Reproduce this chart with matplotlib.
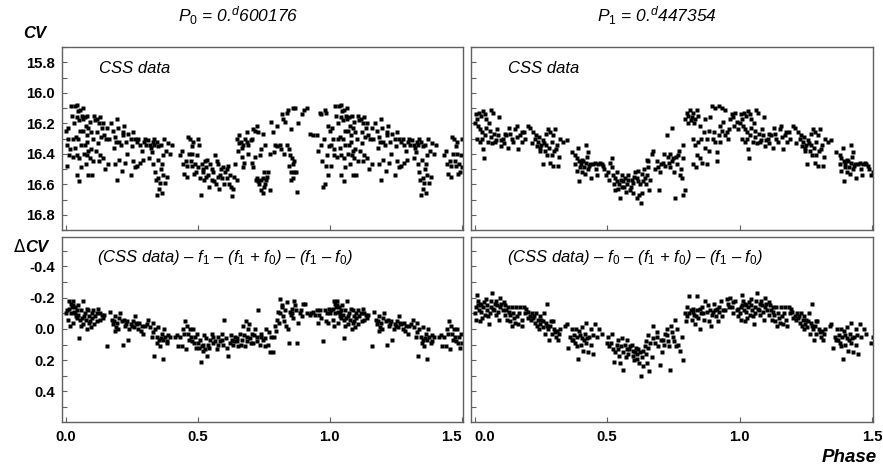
import matplotlib.pyplot as plt
import numpy as np

plt.rcParams['font.family'] = ['Liberation Sans', 'DejaVu Sans']
plt.rcParams['mathtext.fontset'] = 'custom'
plt.rcParams['mathtext.it'] = 'Liberation Sans:italic'
plt.rcParams['mathtext.rm'] = 'Liberation Sans'
plt.rcParams['axes.unicode_minus'] = False

# CSS light curve folded with P0 (phase, CV)
css_p0 = [
    (0.008, 16.23), (0.010, 16.30), (0.004, 16.34), (0.014, 16.41), (0.004, 16.48), (0.023, 16.15), (0.019, 16.09),
    (0.029, 16.30), (0.026, 16.42), (0.035, 16.09), (0.044, 16.08), (0.054, 16.11), (0.042, 16.16), (0.049, 16.18),
    (0.061, 16.15), (0.039, 16.29), (0.048, 16.30), (0.042, 16.41), (0.052, 16.43), (0.044, 16.54), (0.052, 16.58),
    (0.059, 16.49), (0.057, 16.34), (0.064, 16.17), (0.073, 16.16), (0.082, 16.15), (0.077, 16.22), (0.086, 16.23),
    (0.092, 16.19), (0.067, 16.25), (0.079, 16.28), (0.073, 16.34), (0.086, 16.38), (0.082, 16.41), (0.092, 16.43),
    (0.077, 16.47), (0.086, 16.54), (0.098, 16.54), (0.095, 16.37), (0.102, 16.30), (0.111, 16.18), (0.117, 16.17),
    (0.130, 16.16), (0.127, 16.20), (0.142, 16.20), (0.120, 16.26), (0.136, 16.23), (0.158, 16.23), (0.161, 16.47),
    (0.145, 16.28), (0.130, 16.41), (0.125, 16.45), (0.140, 16.43), (0.153, 16.30), (0.165, 16.30), (0.178, 16.25),
    (0.187, 16.29), (0.195, 16.17), (0.199, 16.23), (0.190, 16.32), (0.203, 16.32), (0.208, 16.34), (0.218, 16.26),
    (0.221, 16.22), (0.187, 16.47), (0.212, 16.51), (0.195, 16.57), (0.216, 16.28), (0.228, 16.32), (0.224, 16.46),
    (0.237, 16.27), (0.246, 16.30), (0.256, 16.26), (0.262, 16.30), (0.269, 16.32), (0.253, 16.45), (0.262, 16.49),
    (0.246, 16.54), (0.275, 16.30), (0.281, 16.34), (0.288, 16.38), (0.296, 16.32), (0.281, 16.46), (0.304, 16.34),
    (0.310, 16.31), (0.319, 16.34), (0.329, 16.32), (0.334, 16.34), (0.325, 16.39), (0.317, 16.43), (0.332, 16.47),
    (0.338, 16.52), (0.344, 16.32), (0.351, 16.35), (0.342, 16.57), (0.351, 16.56), (0.357, 16.59), (0.344, 16.67),
    (0.363, 16.66), (0.354, 16.63), (0.369, 16.41), (0.372, 16.30), (0.364, 16.47), (0.376, 16.59), (0.382, 16.55),
    (0.367, 16.54), (0.361, 16.34), (0.388, 16.33), (0.401, 16.34), (0.433, 16.41), (0.443, 16.47), (0.449, 16.53),
    (0.460, 16.48), (0.464, 16.29), (0.470, 16.30), (0.477, 16.35), (0.483, 16.32), (0.468, 16.40), (0.473, 16.45),
    (0.458, 16.55), (0.477, 16.48), (0.489, 16.47), (0.486, 16.53), (0.496, 16.41), (0.502, 16.30), (0.506, 16.34),
    (0.502, 16.49), (0.508, 16.56), (0.515, 16.47), (0.521, 16.52), (0.527, 16.45), (0.533, 16.49), (0.540, 16.54),
    (0.546, 16.47), (0.552, 16.57), (0.559, 16.52), (0.511, 16.67), (0.565, 16.41), (0.571, 16.45), (0.578, 16.47),
    (0.584, 16.54), (0.581, 16.63), (0.569, 16.60), (0.590, 16.56), (0.523, 16.57), (0.536, 16.44), (0.596, 16.49),
    (0.603, 16.52), (0.609, 16.56), (0.615, 16.48), (0.622, 16.54), (0.628, 16.68), (0.619, 16.60), (0.634, 16.63),
    (0.641, 16.47), (0.647, 16.57), (0.649, 16.30), (0.657, 16.28), (0.662, 16.32), (0.670, 16.34), (0.653, 16.38),
    (0.666, 16.42), (0.675, 16.46), (0.678, 16.30), (0.672, 16.49), (0.685, 16.32), (0.685, 16.26), (0.691, 16.34),
    (0.700, 16.31), (0.710, 16.24), (0.716, 16.25), (0.723, 16.22), (0.729, 16.26), (0.704, 16.46), (0.710, 16.49),
    (0.720, 16.57), (0.725, 16.56), (0.733, 16.60), (0.738, 16.64), (0.745, 16.66), (0.754, 16.60), (0.748, 16.56),
    (0.741, 16.57), (0.758, 16.57), (0.750, 16.52), (0.735, 16.41), (0.741, 16.37), (0.748, 16.27), (0.754, 16.34),
    (0.767, 16.52), (0.773, 16.64), (0.779, 16.19), (0.783, 16.26), (0.788, 16.39), (0.792, 16.34), (0.798, 16.35),
    (0.811, 16.34), (0.817, 16.14), (0.823, 16.17), (0.830, 16.19), (0.836, 16.13), (0.842, 16.11), (0.839, 16.34),
    (0.846, 16.37), (0.849, 16.41), (0.851, 16.24), (0.855, 16.43), (0.859, 16.47), (0.861, 16.10), (0.868, 16.10),
    (0.859, 16.56), (0.851, 16.57), (0.864, 16.52), (0.874, 16.65), (0.871, 16.52), (0.893, 16.14), (0.901, 16.11),
    (0.912, 16.10), (0.924, 16.27), (0.937, 16.28), (0.950, 16.28), (0.962, 16.13), (0.968, 16.14), (0.981, 16.11),
    (0.987, 16.13), (0.968, 16.34), (0.977, 16.30), (0.975, 16.62), (0.981, 16.60), (0.994, 16.54), (0.990, 16.41),
    (0.998, 16.35), (0.994, 16.22),
    (0.000, 16.25), (0.015, 16.37), (0.030, 16.20), (0.037, 16.36), (0.047, 16.12), (0.056, 16.25), (0.066, 16.10),
    (0.070, 16.40), (0.080, 16.32), (0.096, 16.26), (0.105, 16.45), (0.108, 16.15), (0.115, 16.38), (0.122, 16.33),
    (0.133, 16.29), (0.148, 16.50), (0.170, 16.20), (0.183, 16.36), (0.200, 16.44), (0.232, 16.40), (0.250, 16.35),
    (0.270, 16.48), (0.292, 16.44), (0.300, 16.30), (0.322, 16.36), (0.336, 16.30), (0.348, 16.44), (0.360, 16.50),
    (0.378, 16.38), (0.395, 16.40), (0.440, 16.38), (0.455, 16.45), (0.480, 16.40), (0.493, 16.52), (0.518, 16.50),
    (0.530, 16.55), (0.543, 16.62), (0.555, 16.50), (0.562, 16.58), (0.575, 16.55), (0.588, 16.50), (0.600, 16.60),
    (0.612, 16.50), (0.625, 16.62), (0.638, 16.55), (0.655, 16.33), (0.668, 16.36), (0.690, 16.40), (0.705, 16.30),
    (0.715, 16.42), (0.728, 16.58), (0.752, 16.62), (0.762, 16.55), (0.775, 16.40), (0.800, 16.22), (0.815, 16.37),
    (0.826, 16.40), (0.844, 16.48), (0.853, 16.52), (0.866, 16.45), (0.880, 16.20), (0.955, 16.38), (0.972, 16.45),
    (0.985, 16.48),
]

# CSS light curve folded with P1 (phase, CV)
css_p1 = [
    (0.006, 16.14), (0.016, 16.13), (0.025, 16.15), (0.032, 16.12), (0.038, 16.14), (0.044, 16.17), (0.063, 16.11),
    (0.069, 16.13), (0.013, 16.22), (0.021, 16.24), (0.029, 16.26), (0.009, 16.30), (0.019, 16.32), (0.032, 16.37),
    (0.034, 16.43), (0.044, 16.23), (0.054, 16.20), (0.057, 16.25), (0.067, 16.33), (0.076, 16.32), (0.082, 16.31),
    (0.092, 16.16), (0.088, 16.28), (0.101, 16.31), (0.107, 16.30), (0.113, 16.27), (0.120, 16.28), (0.126, 16.36),
    (0.130, 16.23), (0.139, 16.30), (0.145, 16.32), (0.151, 16.24), (0.158, 16.22), (0.164, 16.37), (0.170, 16.28),
    (0.177, 16.26), (0.180, 16.32), (0.189, 16.30), (0.202, 16.22), (0.208, 16.23), (0.221, 16.26), (0.227, 16.30),
    (0.233, 16.28), (0.240, 16.32), (0.246, 16.36), (0.252, 16.34), (0.259, 16.31), (0.265, 16.38), (0.271, 16.34),
    (0.277, 16.24), (0.284, 16.26), (0.290, 16.32), (0.296, 16.28), (0.303, 16.24), (0.256, 16.47), (0.274, 16.41),
    (0.284, 16.46), (0.290, 16.41), (0.296, 16.48), (0.306, 16.37), (0.311, 16.34), (0.315, 16.48), (0.322, 16.30),
    (0.334, 16.32), (0.347, 16.31), (0.243, 16.29), (0.248, 16.38), (0.269, 16.27), (0.366, 16.39), (0.378, 16.41),
    (0.385, 16.43), (0.391, 16.36), (0.395, 16.45), (0.400, 16.47), (0.407, 16.44), (0.412, 16.49), (0.420, 16.46),
    (0.425, 16.42), (0.429, 16.39), (0.433, 16.48), (0.416, 16.53), (0.404, 16.52), (0.395, 16.58), (0.435, 16.47),
    (0.441, 16.56), (0.448, 16.47), (0.454, 16.46), (0.463, 16.54), (0.467, 16.47), (0.422, 16.34), (0.385, 16.51),
    (0.473, 16.46), (0.479, 16.47), (0.486, 16.48), (0.496, 16.54), (0.504, 16.52), (0.511, 16.46), (0.517, 16.43),
    (0.523, 16.54), (0.530, 16.56), (0.536, 16.58), (0.542, 16.63), (0.530, 16.64), (0.549, 16.69), (0.551, 16.57),
    (0.555, 16.54), (0.538, 16.52), (0.517, 16.49), (0.561, 16.58), (0.567, 16.56), (0.574, 16.60), (0.580, 16.54),
    (0.586, 16.64), (0.593, 16.57), (0.599, 16.59), (0.605, 16.52), (0.612, 16.56), (0.618, 16.51), (0.624, 16.60),
    (0.631, 16.66), (0.637, 16.58), (0.643, 16.56), (0.649, 16.54), (0.656, 16.49), (0.627, 16.72), (0.622, 16.67),
    (0.596, 16.66), (0.571, 16.65), (0.612, 16.69), (0.647, 16.60), (0.662, 16.57), (0.649, 16.44), (0.668, 16.40),
    (0.675, 16.38), (0.687, 16.45), (0.694, 16.49), (0.697, 16.64), (0.660, 16.64), (0.702, 16.47), (0.712, 16.46),
    (0.719, 16.48), (0.725, 16.28), (0.731, 16.42), (0.738, 16.49), (0.744, 16.45), (0.750, 16.43), (0.753, 16.52),
    (0.757, 16.69), (0.763, 16.47), (0.769, 16.41), (0.773, 16.38), (0.776, 16.54), (0.744, 16.23), (0.782, 16.56),
    (0.788, 16.67), (0.794, 16.64), (0.778, 16.50), (0.738, 16.40), (0.786, 16.43), (0.788, 16.34), (0.794, 16.17),
    (0.801, 16.13), (0.807, 16.15), (0.813, 16.11), (0.820, 16.16), (0.826, 16.13), (0.832, 16.17), (0.839, 16.11),
    (0.845, 16.15), (0.823, 16.30), (0.832, 16.34), (0.839, 16.41), (0.845, 16.32), (0.826, 16.47), (0.836, 16.49),
    (0.851, 16.43), (0.858, 16.46), (0.864, 16.26), (0.870, 16.17), (0.851, 16.22), (0.876, 16.30), (0.883, 16.38),
    (0.879, 16.47), (0.889, 16.16), (0.895, 16.09), (0.908, 16.10), (0.921, 16.09), (0.933, 16.10), (0.946, 16.11),
    (0.902, 16.26), (0.908, 16.32), (0.914, 16.45), (0.921, 16.28), (0.914, 16.39), (0.927, 16.22), (0.933, 16.25),
    (0.939, 16.19), (0.952, 16.26), (0.965, 16.17), (0.958, 16.30), (0.971, 16.14), (0.977, 16.16), (0.984, 16.13),
    (0.990, 16.19), (0.996, 16.24),
    (0.000, 16.20), (0.010, 16.17), (0.027, 16.30), (0.040, 16.28), (0.050, 16.32), (0.060, 16.29), (0.072, 16.27),
    (0.085, 16.24), (0.098, 16.35), (0.110, 16.33), (0.135, 16.27), (0.160, 16.29), (0.185, 16.26), (0.215, 16.33),
    (0.237, 16.35), (0.262, 16.33), (0.280, 16.36), (0.300, 16.38), (0.318, 16.42), (0.380, 16.47), (0.398, 16.49),
    (0.410, 16.45), (0.428, 16.50), (0.458, 16.50), (0.490, 16.50), (0.508, 16.57), (0.525, 16.60), (0.545, 16.60),
    (0.556, 16.62), (0.565, 16.62), (0.577, 16.57), (0.590, 16.62), (0.602, 16.55), (0.615, 16.58), (0.632, 16.53),
    (0.640, 16.50), (0.655, 16.45), (0.680, 16.50), (0.700, 16.52), (0.715, 16.40), (0.735, 16.46), (0.760, 16.42),
    (0.805, 16.20), (0.816, 16.18), (0.829, 16.20), (0.855, 16.30), (0.868, 16.36), (0.885, 16.25), (0.898, 16.30),
    (0.925, 16.32), (0.945, 16.28), (0.962, 16.24), (0.980, 16.22),
]

# residuals after removing f1 terms, folded with P0 (phase, dCV)
res_p0 = [
    (0.004, -0.12), (0.010, -0.06), (0.014, -0.18), (0.019, -0.16), (0.023, -0.14), (0.026, -0.18), (0.032, -0.11),
    (0.035, -0.14), (0.039, -0.08), (0.044, -0.12), (0.048, -0.09), (0.052, 0.06), (0.054, -0.06), (0.061, -0.07),
    (0.064, -0.18), (0.067, -0.03), (0.073, -0.10), (0.077, -0.06), (0.082, 0.00), (0.086, -0.12), (0.090, -0.08),
    (0.092, -0.05), (0.095, -0.01), (0.098, -0.10), (0.016, -0.02), (0.029, -0.04), (0.042, -0.07), (0.057, -0.02),
    (0.105, -0.12), (0.111, -0.08), (0.117, -0.10), (0.124, -0.13), (0.130, -0.06), (0.136, -0.09), (0.142, -0.07),
    (0.158, 0.11), (0.168, -0.11), (0.174, -0.06), (0.180, -0.03), (0.187, -0.08), (0.190, -0.01), (0.195, -0.04),
    (0.199, 0.00), (0.187, 0.01), (0.206, -0.10), (0.212, -0.05), (0.216, 0.10), (0.221, -0.06), (0.224, -0.02),
    (0.231, -0.05), (0.237, 0.07), (0.241, 0.00), (0.246, -0.03), (0.253, -0.05), (0.259, -0.01), (0.262, -0.08),
    (0.269, -0.03), (0.275, 0.00), (0.279, -0.04), (0.288, -0.02), (0.294, 0.03), (0.306, -0.03), (0.313, -0.06),
    (0.319, -0.01), (0.325, 0.05), (0.329, -0.04), (0.334, 0.17), (0.338, 0.00), (0.344, 0.05), (0.347, 0.09),
    (0.351, -0.01), (0.354, 0.07), (0.357, 0.11), (0.363, 0.03), (0.367, 0.19), (0.369, 0.07), (0.372, 0.00),
    (0.376, 0.05), (0.382, 0.09), (0.388, 0.04), (0.395, 0.05), (0.414, 0.05), (0.426, 0.11), (0.433, 0.05),
    (0.439, 0.11), (0.445, 0.00), (0.451, -0.05), (0.455, 0.13), (0.460, -0.02), (0.464, 0.03), (0.470, 0.00),
    (0.473, 0.05), (0.477, 0.08), (0.483, 0.00), (0.489, 0.05), (0.493, 0.12), (0.498, 0.03), (0.502, 0.09),
    (0.508, 0.07), (0.512, 0.21), (0.515, 0.11), (0.521, 0.10), (0.527, 0.13), (0.531, 0.06), (0.536, 0.17),
    (0.540, 0.10), (0.546, 0.07), (0.552, 0.03), (0.559, 0.05), (0.565, 0.08), (0.571, 0.13), (0.578, 0.05),
    (0.584, 0.08), (0.590, 0.03), (0.596, 0.10), (0.599, -0.06), (0.607, 0.06), (0.615, 0.17), (0.622, 0.09),
    (0.628, 0.07), (0.634, 0.10), (0.641, 0.05), (0.647, 0.08), (0.653, 0.11), (0.660, 0.03), (0.666, 0.07),
    (0.672, -0.02), (0.678, 0.11), (0.685, 0.05), (0.691, 0.00), (0.697, 0.06), (0.682, -0.05), (0.695, -0.03),
    (0.704, 0.03), (0.710, 0.09), (0.716, 0.00), (0.723, 0.05), (0.729, -0.12), (0.735, 0.10), (0.741, 0.03),
    (0.748, 0.07), (0.754, 0.06), (0.760, 0.00), (0.767, 0.10), (0.773, 0.15), (0.779, 0.05), (0.786, 0.15),
    (0.792, -0.02), (0.796, 0.01), (0.801, -0.06), (0.805, -0.11), (0.811, -0.10), (0.813, -0.19), (0.817, -0.14),
    (0.823, -0.08), (0.830, -0.12), (0.834, -0.02), (0.839, -0.17), (0.842, 0.00), (0.846, 0.09), (0.851, -0.09),
    (0.855, -0.13), (0.861, -0.07), (0.864, -0.18), (0.868, -0.15), (0.874, 0.09), (0.880, -0.04), (0.886, -0.10),
    (0.893, -0.08), (0.897, -0.16), (0.905, -0.16), (0.924, -0.09), (0.937, -0.11), (0.943, -0.09), (0.950, -0.12),
    (0.956, -0.04), (0.962, -0.12), (0.968, -0.07), (0.975, 0.08), (0.981, -0.12), (0.987, -0.05), (0.994, -0.04),
    (0.997, -0.13),
    (0.000, -0.10), (0.012, -0.13), (0.020, -0.10), (0.028, -0.15), (0.037, -0.10), (0.046, -0.15), (0.058, -0.12),
    (0.070, -0.08), (0.080, -0.13), (0.088, -0.04), (0.100, -0.07), (0.108, -0.03), (0.120, -0.05), (0.128, -0.10),
    (0.146, -0.09), (0.183, -0.05), (0.203, -0.07), (0.228, -0.03), (0.250, -0.02), (0.265, -0.04), (0.285, 0.01),
    (0.300, -0.02), (0.330, 0.02), (0.360, 0.06), (0.385, 0.08), (0.420, 0.04), (0.448, 0.03), (0.468, 0.07),
    (0.486, 0.09), (0.505, 0.12), (0.518, 0.14), (0.525, 0.04), (0.543, 0.12), (0.556, 0.09), (0.575, 0.10),
    (0.593, 0.07), (0.612, 0.12), (0.625, 0.04), (0.638, 0.08), (0.650, 0.06), (0.663, 0.10), (0.675, 0.04),
    (0.688, 0.08), (0.700, 0.09), (0.713, 0.04), (0.726, 0.08), (0.738, 0.05), (0.755, 0.11), (0.770, 0.02),
    (0.790, 0.05), (0.808, -0.04), (0.820, -0.15), (0.827, -0.05), (0.848, -0.11), (0.858, -0.10), (0.870, -0.12),
    (0.890, -0.12), (0.915, -0.10), (0.930, -0.10), (0.960, -0.09), (0.990, -0.10),
]

# residuals after removing f0 terms, folded with P1 (phase, dCV)
res_p1 = [
    (0.004, -0.14), (0.009, -0.22), (0.013, -0.18), (0.016, -0.12), (0.019, -0.16), (0.025, -0.11), (0.029, -0.07),
    (0.032, -0.14), (0.038, -0.09), (0.042, -0.19), (0.047, -0.12), (0.054, -0.03), (0.057, -0.10), (0.063, -0.18),
    (0.067, -0.23), (0.069, -0.13), (0.076, -0.16), (0.082, -0.18), (0.088, -0.11), (0.095, -0.20), (0.097, -0.14),
    (0.092, -0.06), (0.079, -0.09), (0.006, -0.06), (0.021, -0.05), (0.105, -0.12), (0.110, -0.17), (0.113, -0.09),
    (0.117, -0.12), (0.122, -0.06), (0.126, -0.14), (0.132, -0.09), (0.135, -0.05), (0.139, -0.14), (0.142, -0.02),
    (0.148, -0.07), (0.155, -0.14), (0.160, -0.08), (0.164, -0.03), (0.170, -0.14), (0.177, -0.06), (0.180, -0.02),
    (0.185, -0.14), (0.195, -0.13), (0.202, -0.07), (0.208, -0.08), (0.214, -0.06), (0.221, -0.07), (0.227, -0.04),
    (0.231, -0.10), (0.236, -0.02), (0.240, -0.06), (0.243, 0.00), (0.248, -0.03), (0.252, -0.06), (0.256, -0.01),
    (0.261, -0.10), (0.265, 0.03), (0.269, -0.04), (0.274, -0.16), (0.277, 0.00), (0.281, 0.07), (0.286, -0.02),
    (0.290, 0.03), (0.294, -0.05), (0.299, 0.00), (0.306, 0.05), (0.311, 0.01), (0.315, 0.07), (0.322, 0.00),
    (0.340, -0.02), (0.347, -0.03), (0.353, 0.12), (0.359, 0.05), (0.366, 0.07), (0.369, 0.00), (0.375, 0.04),
    (0.378, 0.09), (0.382, 0.00), (0.387, 0.05), (0.391, 0.19), (0.395, 0.01), (0.400, 0.10), (0.404, 0.06),
    (0.407, -0.01), (0.410, 0.14), (0.416, 0.03), (0.420, 0.09), (0.422, -0.04), (0.429, 0.15), (0.433, 0.05),
    (0.438, 0.00), (0.441, 0.10), (0.448, 0.16), (0.454, -0.03), (0.460, 0.05), (0.470, 0.00), (0.479, 0.03),
    (0.498, 0.09), (0.508, 0.11), (0.517, 0.03), (0.521, 0.13), (0.526, 0.21), (0.530, 0.15), (0.536, 0.10),
    (0.542, 0.07), (0.546, 0.17), (0.551, 0.11), (0.555, 0.06), (0.559, 0.26), (0.561, 0.15), (0.549, 0.22),
    (0.567, 0.10), (0.574, 0.13), (0.576, 0.07), (0.580, 0.16), (0.586, 0.11), (0.593, 0.10), (0.596, 0.14),
    (0.602, 0.20), (0.605, 0.15), (0.609, 0.12), (0.614, 0.19), (0.618, 0.13), (0.622, 0.22), (0.627, 0.30),
    (0.631, 0.18), (0.634, 0.24), (0.637, 0.14), (0.643, 0.11), (0.647, 0.16), (0.652, 0.22), (0.656, 0.12),
    (0.660, 0.27), (0.662, 0.09), (0.668, 0.18), (0.675, -0.02), (0.681, 0.09), (0.687, 0.05), (0.694, 0.11),
    (0.700, 0.23), (0.706, 0.15), (0.712, 0.07), (0.719, 0.03), (0.725, 0.00), (0.731, 0.08), (0.735, 0.11),
    (0.738, 0.26), (0.740, -0.02), (0.748, 0.05), (0.753, 0.08), (0.757, -0.06), (0.760, 0.11), (0.763, 0.00),
    (0.769, 0.10), (0.776, 0.14), (0.782, 0.05), (0.788, 0.20), (0.794, -0.10), (0.801, -0.14), (0.803, -0.08),
    (0.811, -0.21), (0.816, -0.12), (0.820, -0.06), (0.823, -0.13), (0.828, -0.09), (0.832, -0.03), (0.839, -0.21),
    (0.841, -0.12), (0.845, -0.07), (0.849, 0.00), (0.854, -0.10), (0.858, -0.14), (0.864, -0.06), (0.870, -0.18),
    (0.876, -0.11), (0.883, -0.05), (0.887, -0.12), (0.892, -0.02), (0.895, -0.09), (0.902, -0.16), (0.908, -0.12),
    (0.912, -0.08), (0.917, -0.05), (0.921, -0.11), (0.924, -0.14), (0.929, -0.18), (0.933, -0.08), (0.939, -0.12),
    (0.952, -0.19), (0.958, -0.16), (0.965, -0.20), (0.971, -0.14), (0.977, -0.10), (0.984, -0.18), (0.990, -0.12),
    (0.996, -0.08),
    (0.000, -0.10), (0.011, -0.15), (0.023, -0.15), (0.035, -0.17), (0.045, -0.15), (0.051, -0.08), (0.060, -0.14),
    (0.073, -0.12), (0.085, -0.15), (0.100, -0.16), (0.115, -0.15), (0.128, -0.11), (0.145, -0.10), (0.152, -0.04),
    (0.168, -0.10), (0.190, -0.10), (0.200, -0.11), (0.218, -0.10), (0.225, -0.08), (0.245, -0.08), (0.258, -0.05),
    (0.272, -0.02), (0.288, -0.05), (0.302, 0.02), (0.318, 0.03), (0.372, 0.07), (0.385, 0.11), (0.398, 0.04),
    (0.413, 0.07), (0.425, 0.06), (0.445, 0.04), (0.503, 0.05), (0.515, 0.09), (0.540, 0.13), (0.570, 0.18),
    (0.583, 0.13), (0.598, 0.17), (0.612, 0.16), (0.625, 0.15), (0.645, 0.08), (0.655, 0.04), (0.672, 0.06),
    (0.690, 0.02), (0.702, 0.07), (0.716, 0.10), (0.728, 0.04), (0.745, 0.02), (0.796, -0.05), (0.808, -0.10),
    (0.826, -0.11), (0.836, -0.08), (0.852, -0.13), (0.862, -0.10), (0.880, -0.15), (0.900, -0.11), (0.915, -0.13),
    (0.945, -0.12), (0.960, -0.14), (0.975, -0.17), (0.993, -0.13),
]

phase_ticks = [0.0, 0.5, 1.0, 1.5]
cv_ticks = [15.8, 16.0, 16.2, 16.4, 16.6, 16.8]
dcv_ticks = [-0.4, -0.2, 0.0, 0.2, 0.4]

period_labels = [r'$\mathit{P}_\mathit{0}$ = 0.$^\mathit{d}$600176', r'$\mathit{P}_\mathit{1}$ = 0.$^\mathit{d}$447354']
residual_labels = [
    r'(CSS data) – $\mathit{f}_\mathit{1}$ – ($\mathit{f}_\mathit{1}$ + $\mathit{f}_\mathit{0}$) – ($\mathit{f}_\mathit{1}$ – $\mathit{f}_\mathit{0}$)',
    r'(CSS data) – $\mathit{f}_\mathit{0}$ – ($\mathit{f}_\mathit{1}$ + $\mathit{f}_\mathit{0}$) – ($\mathit{f}_\mathit{1}$ – $\mathit{f}_\mathit{0}$)',
]


def fold(pts):
    ph, val = np.array(pts).T
    # phase diagram shows 1.5 cycles: repeat the first half after phase 1
    first = ph < 0.505
    return np.concatenate([ph, ph[first] + 1.0]), np.concatenate([val, val[first]])


W, H = 883, 470
fig = plt.figure(figsize=(W / 100, H / 100), dpi=100)

frame = '#606060'
ax_tl = fig.add_axes([62 / W, 1 - 230 / H, 401 / W, 183 / H])
ax_tr = fig.add_axes([471 / W, 1 - 230 / H, 402 / W, 183 / H])
ax_bl = fig.add_axes([62 / W, 1 - 421.5 / H, 401 / W, 184.5 / H])
ax_br = fig.add_axes([471 / W, 1 - 421.5 / H, 402 / W, 184.5 / H])

panels = [(ax_tl, css_p0, cv_ticks), (ax_tr, css_p1, cv_ticks),
          (ax_bl, res_p0, dcv_ticks), (ax_br, res_p1, dcv_ticks)]
for ax, pts, yt in panels:
    ph, val = fold(pts)
    ax.plot(ph, val, 's', ms=2.5, color='black', mec='none')
    ax.set_xlim(-0.014, 1.504)
    ax.set_xticks(phase_ticks, [f'{t:.1f}' for t in phase_ticks], fontweight='bold')
    ax.set_yticks(yt, [f'{t:.1f}' for t in yt], fontweight='bold')
    ax.set_yticks(np.array(yt[:-1]) + 0.1, minor=True)
    ax.tick_params(which='both', direction='in', length=3.5, width=0.8, color=frame,
                   labelsize=10.7, pad=5, top=False, right=False)
    for s in ax.spines.values():
        s.set_color(frame)
        s.set_linewidth(1.0)

for ax in (ax_tl, ax_tr):
    ax.set_ylim(16.882, 15.701)
    ax.set_yticks([15.7] + list(np.array(cv_ticks) + 0.1), minor=True)
    ax.tick_params(labelbottom=False)
    ax.text(0.093, 0.885, 'CSS data', transform=ax.transAxes, fontsize=12,
            style='italic', va='center', ha='left')

for ax in (ax_bl, ax_br):
    ax.set_ylim(0.592, -0.588)
    ax.set_yticks([-0.5] + list(np.array(dcv_ticks) + 0.1), minor=True)
    ax.tick_params(axis='x', pad=6)

for ax in (ax_tr, ax_br):
    ax.tick_params(labelleft=False)

ax_bl.text(0.087, 0.888, residual_labels[0], transform=ax_bl.transAxes, fontsize=12,
           style='italic', va='center', ha='left')
ax_br.text(0.09, 0.888, residual_labels[1], transform=ax_br.transAxes, fontsize=12,
           style='italic', va='center', ha='left')

# keep the touching "1.5" and "0.0" between the two lower panels apart
ax_bl.get_xticklabels()[-1].set_horizontalalignment('right')
ax_br.get_xticklabels()[0].set_horizontalalignment('left')

fig.text(238 / W, 1 - 16 / H, period_labels[0], fontsize=12.5, style='italic', ha='center', va='center')
fig.text(657 / W, 1 - 16 / H, period_labels[1], fontsize=12.5, style='italic', ha='center', va='center')

fig.text(35 / W, 1 - 34 / H, 'CV', fontsize=12, fontweight='bold', style='italic', ha='center', va='center')
fig.text(25 / W, 1 - 247 / H, 'Δ', fontsize=12, family='DejaVu Sans', ha='right', va='center')
fig.text(25 / W, 1 - 247 / H, 'CV', fontsize=12, fontweight='bold', style='italic', ha='left', va='center')
fig.text(877 / W, 1 - 457 / H, 'Phase', fontsize=13.5, fontweight='bold', style='italic', ha='right', va='center')

fig.savefig('out.png', dpi=100)
